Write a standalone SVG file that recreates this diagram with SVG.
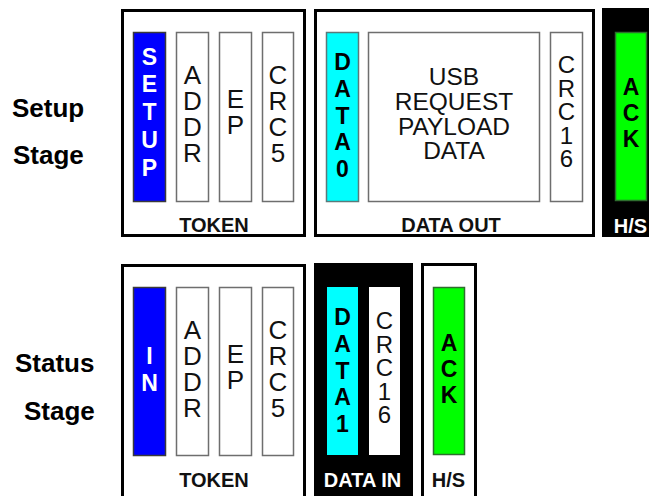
<svg xmlns="http://www.w3.org/2000/svg" width="649" height="496" viewBox="0 0 649 496">
<style>
.frame{fill:#fff;stroke:#000;stroke-width:3}
.blk{fill:#000}
.fld{fill:#fff;stroke:#6e6e6e;stroke-width:1.5}
.blue{fill:#0000ff;stroke:#3a3a3a;stroke-width:1.5}
.cyan{fill:#00ffff;stroke:#5a7a7a;stroke-width:1.5}
.green{fill:#00ff00;stroke:#2e6e2e;stroke-width:1.5}
text{font-family:"Liberation Sans",Arial,sans-serif;text-anchor:middle}
.v{writing-mode:vertical-rl;text-orientation:upright}
.stage{font-size:26px;font-weight:bold;text-anchor:start;fill:#000}
.bold{font-size:23px;font-weight:bold}
.reg{font-size:26px;fill:#111;letter-spacing:-4px}
.crc16{font-size:24px;fill:#111;letter-spacing:-3.5px}
.pay{font-size:24.5px;fill:#111}
.lbl{font-size:20px;font-weight:bold}
</style>

<g id="labels">
<text class="stage" x="12" y="117">Setup</text>
<text class="stage" x="13" y="164">Stage</text>
<text class="stage" x="15" y="372">Status</text>
<text class="stage" x="24" y="420">Stage</text>
</g>

<g id="setup-token">
<rect class="frame" x="122.5" y="10.5" width="182" height="225"/>
<rect class="blue" x="133.5" y="32.5" width="32" height="169"/>
<text class="bold v" fill="#fff" x="149.5" y="113" style="letter-spacing:1.8px">SETUP</text>
<rect class="fld" x="176.5" y="32.5" width="32" height="169"/>
<text class="reg v" x="192.5" y="112">ADDR</text>
<rect class="fld" x="219.5" y="32.5" width="32" height="169"/>
<text class="reg v" x="235.5" y="110">EP</text>
<rect class="fld" x="262.5" y="32.5" width="31" height="169"/>
<text class="reg v" x="278" y="112">CRC5</text>
<text class="lbl" x="214" y="232" fill="#111">TOKEN</text>
</g>

<g id="setup-dataout">
<rect class="frame" x="315.5" y="10.5" width="278" height="225"/>
<rect class="cyan" x="326.5" y="32.5" width="32" height="169"/>
<text class="bold v" fill="#000" x="342.5" y="116" style="letter-spacing:0.8px">DATA0</text>
<rect class="fld" x="368.5" y="32.5" width="171" height="169"/>
<text class="pay"><tspan x="454" y="85">USB</tspan><tspan x="454" y="110">REQUEST</tspan><tspan x="454" y="134.5">PAYLOAD</tspan><tspan x="454" y="159">DATA</tspan></text>
<rect class="fld" x="550.5" y="32.5" width="32" height="169"/>
<text class="crc16 v" x="566.5" y="110">CRC16</text>
<text class="lbl" x="451" y="232" fill="#111">DATA OUT</text>
</g>

<g id="setup-hs">
<rect class="blk" x="602" y="8" width="60" height="229"/>
<rect class="green" x="615.5" y="32.5" width="31" height="168"/>
<text class="bold v" fill="#000" x="631" y="113">ACK</text>
<text class="lbl" x="630.5" y="233" fill="#fff">H/S</text>
</g>

<g id="status-token">
<rect class="frame" x="122.5" y="265.5" width="182" height="240"/>
<rect class="blue" x="133.5" y="287.5" width="32" height="168"/>
<text class="bold v" fill="#fff" x="149.5" y="370" style="letter-spacing:1.3px">IN</text>
<rect class="fld" x="176.5" y="287.5" width="32" height="168"/>
<text class="reg v" x="192.5" y="367">ADDR</text>
<rect class="fld" x="219.5" y="287.5" width="32" height="168"/>
<text class="reg v" x="235.5" y="365">EP</text>
<rect class="fld" x="262.5" y="287.5" width="31" height="168"/>
<text class="reg v" x="278" y="367">CRC5</text>
<text class="lbl" x="214" y="487" fill="#111">TOKEN</text>
</g>

<g id="status-datain">
<rect class="blk" x="314" y="263" width="99" height="240"/>
<rect x="327" y="287" width="31" height="168" fill="#00ffff"/>
<text class="bold v" fill="#000" x="342.5" y="371" style="letter-spacing:0.8px">DATA1</text>
<rect x="369" y="287" width="31" height="168" fill="#fff"/>
<text class="crc16 v" x="384.5" y="366">CRC16</text>
<text class="lbl" x="362.5" y="487" fill="#fff">DATA IN</text>
</g>

<g id="status-hs">
<rect class="frame" x="422.5" y="264.5" width="53" height="240"/>
<rect class="green" x="433.5" y="287.5" width="31" height="167"/>
<text class="bold v" fill="#000" x="449" y="369">ACK</text>
<text class="lbl" x="448.5" y="487" fill="#111">H/S</text>
</g>

<g id="connectors"></g>
</svg>
